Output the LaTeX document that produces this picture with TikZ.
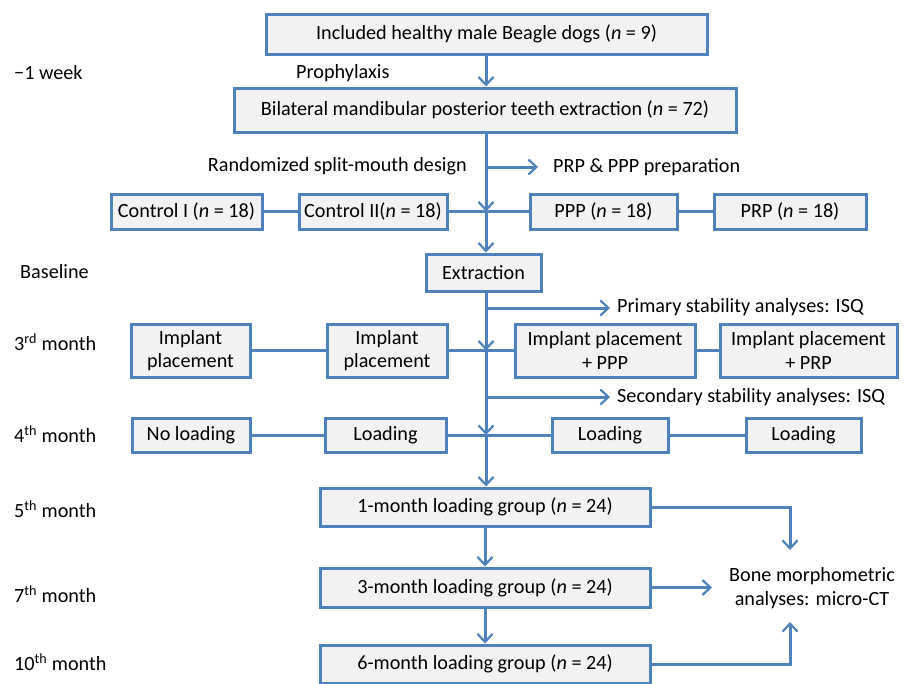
\documentclass[tikz,border=0pt]{standalone}
\usepackage{fontspec}
\setmainfont{Carlito}
\usetikzlibrary{arrows.meta}
\definecolor{boxblue}{HTML}{4F81BD}
\definecolor{boxfill}{HTML}{F2F2F2}
\begin{document}
\begin{tikzpicture}[x=1pt,y=-1pt,
  every node/.style={font=\fontsize{20.2}{23.5}\selectfont, inner sep=0pt},
  box/.style={draw=boxblue, fill=boxfill, line width=3pt, align=center},
  lbl/.style={anchor=west},
  conn/.style={draw=boxblue, line width=3pt},
  arr/.style={conn, -{Straight Barb[length=8pt,width=15pt,line width=2.2pt]}}]
\useasboundingbox (0,0) rectangle (909,683);
% boxes
\node[box, minimum width=441, minimum height=40] (top) at (486.5,34) {Included healthy male Beagle dogs (\textit{n} = 9)};
\node[box, minimum width=502, minimum height=44] (bil) at (485,110) {Bilateral mandibular posterior teeth extraction (\textit{n} = 72)};
\node[box, minimum width=151, minimum height=35] (c1) at (186.5,211.5) {Control I (\textit{n} = 18)};
\node[box, minimum width=148, minimum height=35] (c2) at (373,211.5) {Control II(\textit{n} = 18)};
\node[box, minimum width=147, minimum height=35] (ppp) at (603.5,211.5) {PPP (\textit{n} = 18)};
\node[box, minimum width=152, minimum height=35] (prp) at (790,211.5) {PRP (\textit{n} = 18)};
\node[box, minimum width=115, minimum height=37] (ext) at (483.5,272.5) {Extraction};
\node[box, minimum width=119, minimum height=53] (ip1) at (190.5,350.5) {Implant\\placement};
\node[box, minimum width=120, minimum height=53] (ip2) at (387,350.5) {Implant\\placement};
\node[box, minimum width=180, minimum height=53] (ip3) at (605,350.5) {Implant placement\\+ PPP};
\node[box, minimum width=177, minimum height=53] (ip4) at (808.5,350.5) {Implant placement\\+ PRP};
\node[box, minimum width=118, minimum height=34] (l1) at (191,435) {No loading};
\node[box, minimum width=121, minimum height=34] (l2) at (385.5,435) {Loading};
\node[box, minimum width=116, minimum height=34] (l3) at (610,435) {Loading};
\node[box, minimum width=115, minimum height=34] (l4) at (803.5,435) {Loading};
\node[box, minimum width=330, minimum height=38] (g1) at (485,507) {1-month loading group (\textit{n} = 24)};
\node[box, minimum width=330, minimum height=39] (g3) at (485,587.5) {3-month loading group (\textit{n} = 24)};
\node[box, minimum width=330, minimum height=38] (g6) at (485,664) {6-month loading group (\textit{n} = 24)};
\node[align=center] (bone) at (812,588) {Bone morphometric\\analyses: micro-CT};
% texts
\node[lbl] (wk) at (14,73) {\textminus 1 week};
\node[lbl] (pro) at (296,73) {Prophylaxis};
\node[anchor=east] (rand) at (467,166) {Randomized split-mouth design};
\node[lbl] (prep) at (553,167) {PRP \& PPP preparation};
\node[lbl] (base) at (20,272) {Baseline};
\node[lbl] (m3) at (14,342) {3\textsuperscript{rd} month};
\node[lbl] (m4) at (14,434) {4\textsuperscript{th} month};
\node[lbl] (m5) at (14,509) {5\textsuperscript{th} month};
\node[lbl] (m7) at (14,594) {7\textsuperscript{th} month};
\node[lbl] (m10) at (14,662) {10\textsuperscript{th} month};
\node[lbl] (prim) at (617,307) {Primary stability analyses: ISQ};
\node[lbl] (sec) at (617,397) {Secondary stability analyses: ISQ};
% trunk coordinates
\coordinate (tp) at (486,167);
\coordinate (t1) at (486,211.5);
\coordinate (t2) at (486,308);
\coordinate (t3) at (486,350.5);
\coordinate (t4) at (486,397);
\coordinate (t5) at (486,435);
\coordinate (pe) at (538,167);
\coordinate (pr) at (610,308);
\coordinate (se) at (610,397);
\coordinate (b1) at (790,550);
\coordinate (b6) at (790,622);
% connectors
\draw[arr] (top.south -| t1) -- (bil.north -| t1);
\draw[arr] (bil.south -| t1) -- (t1);
\draw[arr] (t1) -- (ext.north -| t1);
\draw[arr] (tp) -- (pe);
\draw[arr] (ext.south -| t1) -- (t3);
\draw[arr] (t3) -- (t5);
\draw[arr] (t5) -- (g1.north -| t1);
\draw[arr] (t2) -- (pr);
\draw[arr] (t4) -- (se);
\draw[conn] (c1) -- (c2);
\draw[conn] (c2) -- (ppp);
\draw[conn] (ppp) -- (prp);
\draw[conn] (ip1) -- (ip2);
\draw[conn] (ip2) -- (ip3);
\draw[conn] (ip3) -- (ip4);
\draw[conn] (l1) -- (l2);
\draw[conn] (l2) -- (l3);
\draw[conn] (l3) -- (l4);
\draw[arr] (g1) -- (g3);
\draw[arr] (g3) -- (g6);
\draw[arr] (g1.east) -| (b1);
\draw[arr] (g6.east) -| (b6);
\draw[arr] (g3.east) -- (712,587.5) coordinate (b3);
\end{tikzpicture}
\end{document}
